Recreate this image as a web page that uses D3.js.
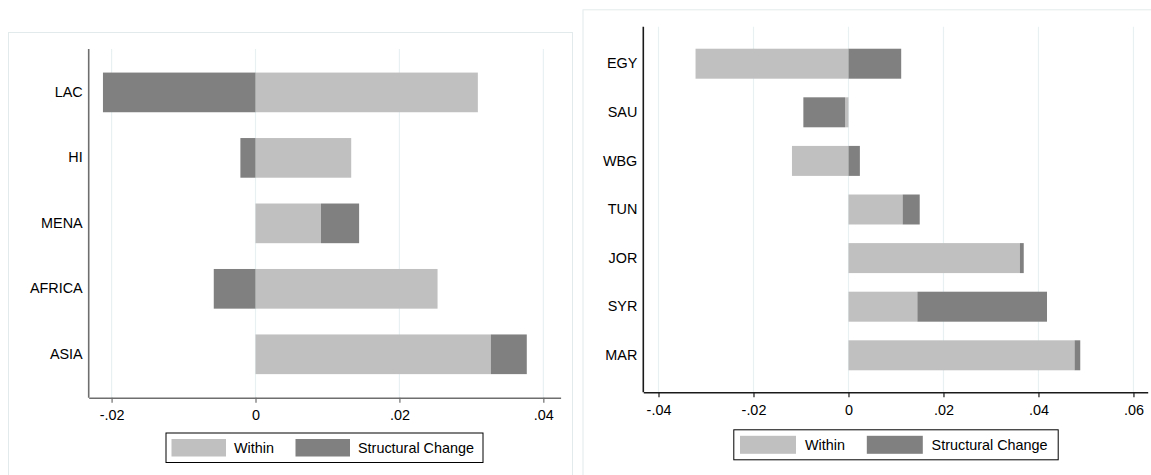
<!DOCTYPE html>
<html>
<head>
<meta charset="utf-8">
<script src="https://cdn.jsdelivr.net/npm/d3@7"></script>
<style>
  html, body { margin: 0; padding: 0; background: #fff; }
  svg { display: block; }
  text { font-family: "Liberation Sans", Arial, sans-serif; font-size: 14.4px; fill: #000; }
</style>
</head>
<body>
<svg id="chart" width="1151" height="475"></svg>
<script>
// ---- Data ----
const seriesNames = ["Within", "Structural Change"];
const seriesColors = ["#c0c0c0", "#808080"];

const leftCategories = ["LAC", "HI", "MENA", "AFRICA", "ASIA"];
const leftWithin     = [0.0309, 0.0133, 0.0091, 0.0253, 0.0327];
const leftStructural = [-0.0212, -0.0021, 0.0053, -0.0058, 0.0050];
const leftTicks      = [-0.02, 0, 0.02, 0.04];

const rightCategories = ["EGY", "SAU", "WBG", "TUN", "JOR", "SYR", "MAR"];
const rightWithin     = [-0.0322, -0.0007, -0.0119, 0.0114, 0.0361, 0.0145, 0.0476];
const rightStructural = [0.0111, -0.0088, 0.0024, 0.0036, 0.0008, 0.0273, 0.0012];
const rightTicks      = [-0.04, -0.02, 0, 0.02, 0.04, 0.06];

// ---- Layout ----
const svg = d3.select("#chart");
const fmt = v => {
  if (Math.abs(v) < 1e-12) return "0";
  const s = Math.abs(v).toFixed(2).replace(/^0\./, ".");
  return (v < 0 ? "-" : "") + s;
};

function panel(cfg) {
  const g = svg.append("g");
  // outer frame
  g.append("rect")
    .attr("x", cfg.frame[0] + 0.5).attr("y", cfg.frame[1] + 0.5)
    .attr("width", cfg.frame[2]).attr("height", cfg.frame[3])
    .attr("fill", "none").attr("stroke", "#e3eaec").attr("stroke-width", 1);

  const x = d3.scaleLinear().domain(cfg.xDomain).range([cfg.left, cfg.right]);
  const y = d3.scaleBand().domain(cfg.categories)
    .range([cfg.top, cfg.bottom]).paddingInner(cfg.pi).paddingOuter(cfg.po);

  // gridlines
  g.append("g").selectAll("line").data(cfg.ticks).join("line")
    .attr("x1", d => x(d)).attr("x2", d => x(d))
    .attr("y1", cfg.top).attr("y2", cfg.bottom)
    .attr("stroke", "#e8f0f2").attr("stroke-width", 1.2);

  // stacked bars (diverging)
  const rows = cfg.categories.map((c, i) => ({cat: c, Within: cfg.within[i], "Structural Change": cfg.structural[i]}));
  const stack = d3.stack().keys(seriesNames).offset(d3.stackOffsetDiverging)(rows);
  stack.forEach((layer, li) => {
    g.append("g").attr("fill", seriesColors[li])
      .selectAll("rect").data(layer).join("rect")
      .attr("x", d => x(Math.min(d[0], d[1])))
      .attr("width", d => Math.abs(x(d[1]) - x(d[0])))
      .attr("y", d => y(d.data.cat))
      .attr("height", y.bandwidth());
  });

  // x axis
  const xAxis = d3.axisBottom(x).tickValues(cfg.ticks).tickFormat(fmt).tickSize(5).tickSizeOuter(0).tickPadding(7);
  const ax = g.append("g").attr("transform", `translate(0,${cfg.bottom})`).call(xAxis);
  ax.attr("font-size", null).attr("font-family", null);
  ax.select(".domain").attr("stroke", cfg.axisColor).attr("stroke-width", 1.6);
  ax.selectAll(".tick line").attr("stroke", cfg.axisColor).attr("stroke-width", 1.2);
  ax.selectAll(".tick text").attr("fill", "#000");

  // y axis
  const yAxis = d3.axisLeft(y).tickSize(0).tickPadding(6);
  const ay = g.append("g").attr("transform", `translate(${cfg.left},0)`).call(yAxis);
  ay.attr("font-size", null).attr("font-family", null);
  ay.select(".domain").attr("stroke", cfg.axisColor).attr("stroke-width", 1.6)
    .attr("d", `M0,${cfg.top}V${cfg.bottom}`);
  ay.selectAll(".tick text").attr("fill", "#000");

  // legend
  const L = cfg.legend;
  const lg = g.append("g");
  lg.append("rect").attr("x", L.x + 0.5).attr("y", L.y + 0.5).attr("width", L.w).attr("height", L.h)
    .attr("fill", "#fff").attr("stroke", "#000").attr("stroke-width", 1);
  seriesNames.forEach((name, i) => {
    lg.append("rect").attr("x", L.sx[i]).attr("y", L.y + 6.5).attr("width", L.sw).attr("height", L.h - 12)
      .attr("fill", seriesColors[i]);
    lg.append("text").attr("x", L.tx[i]).attr("y", L.y + L.h / 2 + 0.5).attr("dominant-baseline", "central")
      .text(name);
  });
}

panel({
  frame: [8, 32, 564, 460],
  categories: leftCategories, within: leftWithin, structural: leftStructural, ticks: leftTicks,
  xDomain: [-0.02318, 0.0424], left: 88.7, right: 560.6,
  top: 49, bottom: 397.7, pi: 0.394, po: 0.36,
  axisColor: "#6e6e6e",
  legend: {x: 165.5, y: 432.5, w: 317, h: 29.5, sx: [171.5, 295.5], sw: 54.5, tx: [234, 358]}
});

panel({
  frame: [582.5, 9.3, 580, 480],
  categories: rightCategories, within: rightWithin, structural: rightStructural, ticks: rightTicks,
  xDomain: [-0.0432, 0.0630], left: 643.3, right: 1147.7,
  top: 26.7, bottom: 392.3, pi: 0.383, po: 0.453,
  axisColor: "#1a1a1a",
  legend: {x: 733.3, y: 429.3, w: 324.4, h: 30, sx: [740, 866.8], sw: 56, tx: [805, 931.6]}
});
</script>
</body>
</html>
